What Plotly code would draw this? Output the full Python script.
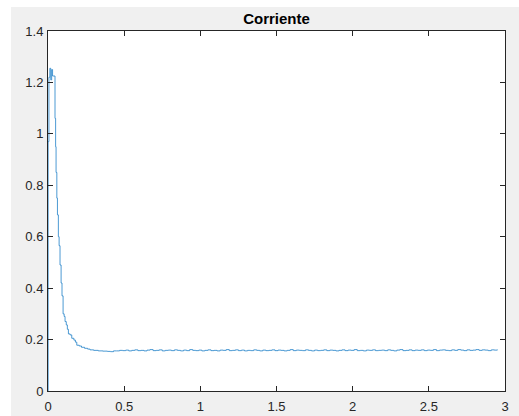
import numpy as np
import plotly.graph_objects as go

# Transient part (sample-and-hold steps)
t_transient = [0.0, 0.001, 0.006, 0.012, 0.018, 0.024, 0.030, 0.046, 0.050, 0.053,
               0.058, 0.062, 0.068, 0.073, 0.079, 0.086, 0.092, 0.099, 0.106, 0.112,
               0.120, 0.127, 0.134, 0.145, 0.156, 0.170, 0.180, 0.189, 0.205, 0.220,
               0.240, 0.260, 0.276, 0.300, 0.330, 0.360, 0.390, 0.410, 0.430]
i_transient = [0.0, 0.97, 1.22, 1.255, 1.21, 1.25, 1.225, 1.06, 0.95, 0.85,
               0.75, 0.685, 0.60, 0.565, 0.49, 0.42, 0.37, 0.30, 0.29, 0.27,
               0.257, 0.24, 0.222, 0.218, 0.205, 0.198, 0.19, 0.178, 0.175, 0.17,
               0.166, 0.163, 0.160, 0.158, 0.156, 0.155, 0.154, 0.153, 0.156]

# Steady-state part, sampled every 0.02 s starting at 0.45 s
t_steady_start = 0.45
t_steady_step = 0.02
i_steady = [0.156, 0.158, 0.157, 0.159, 0.156, 0.158, 0.160, 0.157, 0.158, 0.156,
            0.159, 0.161, 0.157, 0.158, 0.160, 0.156, 0.158, 0.159, 0.157, 0.160,
            0.158, 0.156, 0.159, 0.157, 0.161, 0.158, 0.157, 0.159, 0.156, 0.158,
            0.160, 0.157, 0.158, 0.156, 0.159, 0.158, 0.161, 0.157, 0.158, 0.160,
            0.157, 0.159, 0.156, 0.158, 0.157, 0.160, 0.158, 0.156, 0.159, 0.157,
            0.158, 0.160, 0.157, 0.159, 0.158, 0.156, 0.158, 0.161, 0.157, 0.159,
            0.158, 0.157, 0.160, 0.158, 0.156, 0.159, 0.157, 0.158, 0.160, 0.157,
            0.159, 0.158, 0.156, 0.158, 0.160, 0.157, 0.159, 0.158, 0.161, 0.157,
            0.158, 0.156, 0.159, 0.158, 0.160, 0.157, 0.158, 0.159, 0.157, 0.160,
            0.158, 0.156, 0.159, 0.161, 0.157, 0.158, 0.160, 0.157, 0.159, 0.158,
            0.160, 0.157, 0.159, 0.158, 0.161, 0.157, 0.159, 0.160, 0.158, 0.157,
            0.160, 0.158, 0.161, 0.159, 0.157, 0.160, 0.158, 0.159, 0.161, 0.158,
            0.160, 0.159, 0.157, 0.160, 0.159, 0.161]
t_steady = [t_steady_start + k * t_steady_step for k in range(len(i_steady))]

t_all = t_transient + t_steady
i_all = i_transient + i_steady

title_text = "Corriente"
x_ticks = [0, 0.5, 1, 1.5, 2, 2.5, 3]
y_ticks = [0, 0.2, 0.4, 0.6, 0.8, 1, 1.2, 1.4]

W, H = 519, 416
ml, mr, mt, mb = 48, 14, 31, 25
pw, ph = W - ml - mr, H - mt - mb

fig = go.Figure()
fig.add_trace(go.Scatter(x=t_all, y=i_all, mode="lines",
                         line=dict(color="#1f80c8", width=0.8, shape="hv"),
                         hoverinfo="skip", showlegend=False))

axis_common = dict(showline=True, mirror="ticks", linecolor="#262626", linewidth=1,
                   ticks="inside", ticklen=5, tickcolor="#262626", tickwidth=1,
                   showgrid=False, zeroline=False, automargin=False,
                   tickfont=dict(family="Liberation Sans, Arial, sans-serif",
                                 size=13, color="#262626"))

fig.update_xaxes(range=[0, 3], tickvals=x_ticks, ticklabelstandoff=3, **axis_common)
fig.update_yaxes(range=[0, 1.4], tickvals=y_ticks, ticklabelstandoff=1, **axis_common)

# white strips at top and left like the original screenshot
shapes = [
    dict(type="rect", xref="paper", yref="paper",
         x0=-ml / pw, x1=(-ml + 11) / pw, y0=-mb / ph, y1=(ph + mt) / ph,
         fillcolor="white", line=dict(width=0), layer="below"),
    dict(type="rect", xref="paper", yref="paper",
         x0=-ml / pw, x1=(pw + mr) / pw, y0=(ph + mt - 7) / ph, y1=(ph + mt) / ph,
         fillcolor="white", line=dict(width=0), layer="below"),
]

fig.update_layout(
    width=W, height=H,
    margin=dict(l=ml, r=mr, t=mt, b=mb, pad=0, autoexpand=False),
    paper_bgcolor="#f0f0f0", plot_bgcolor="white",
    shapes=shapes,
    title=dict(text="<b>" + title_text + "</b>", x=0.5, xref="paper", xanchor="center",
               y=1, yref="paper", yanchor="bottom", pad=dict(b=7),
               font=dict(family="Liberation Sans, Arial, sans-serif", size=15, color="#000000")),
)

fig.write_html("out.html")
